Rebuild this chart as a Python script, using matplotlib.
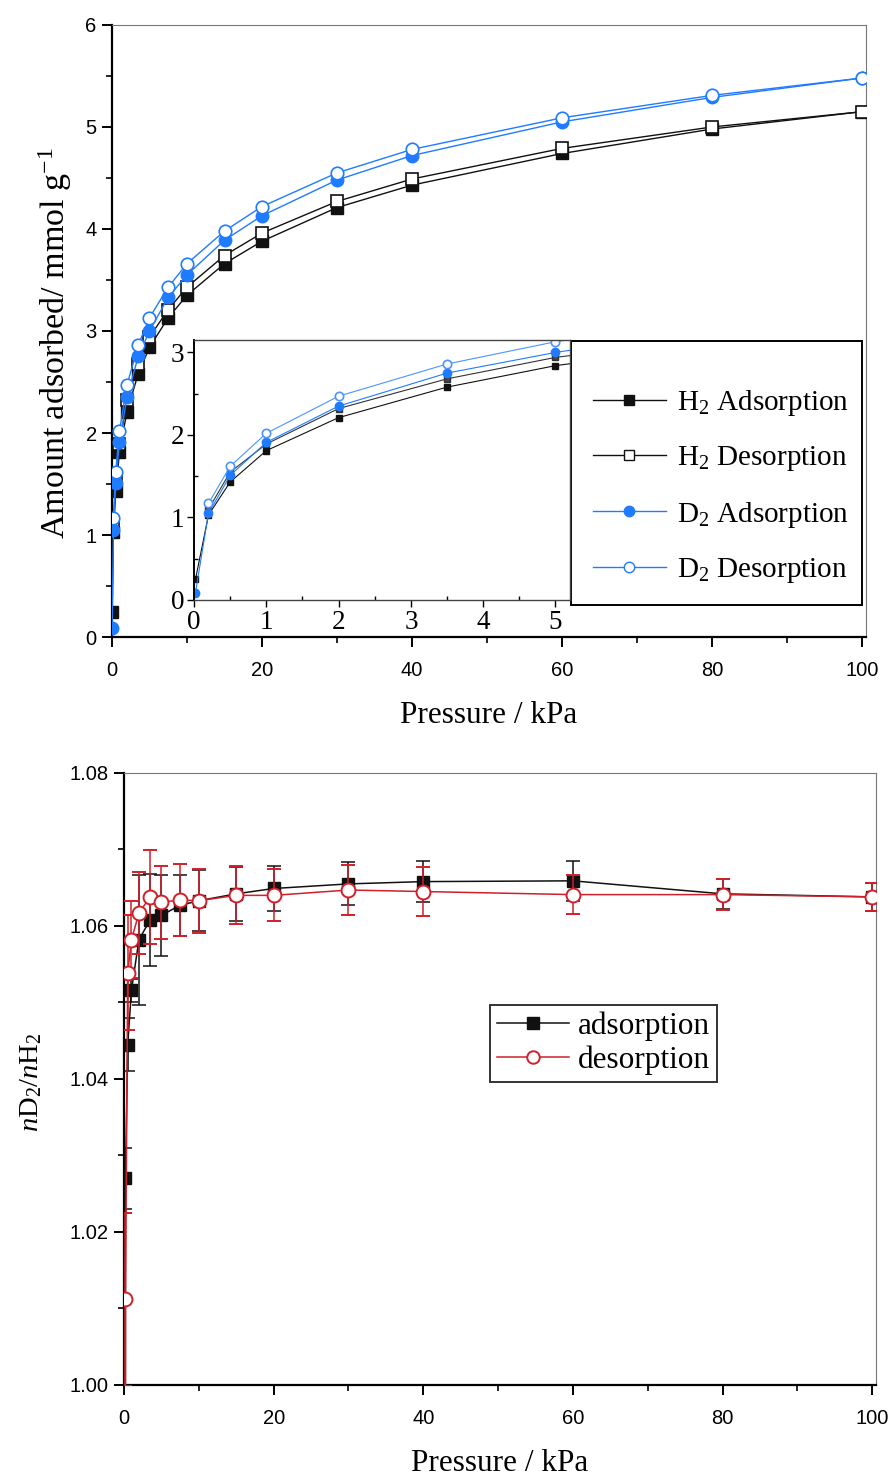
import matplotlib
matplotlib.use("Agg")
import matplotlib.pyplot as plt
from matplotlib.lines import Line2D
from matplotlib.patches import Rectangle
from matplotlib.ticker import MultipleLocator, FormatStrFormatter

plt.rcParams['font.family'] = ['Liberation Serif', 'DejaVu Serif']
plt.rcParams['mathtext.fontset'] = 'custom'
plt.rcParams['mathtext.rm'] = 'Liberation Serif'
plt.rcParams['mathtext.it'] = 'Liberation Serif:italic'

# ---- isotherm data (pressure in kPa, uptake in mmol/g) ----
p_ads = [0.02, 0.2, 0.5, 1, 2, 3.5, 5, 7.5, 10, 15, 20, 30, 40, 60, 80, 100]
p_des = [0.2, 0.5, 1, 2, 3.5, 5, 7.5, 10, 15, 20, 30, 40, 60, 80, 100]
h2_ads = [0.25, 1.03, 1.43, 1.81, 2.21, 2.58, 2.84, 3.13, 3.35, 3.66, 3.88, 4.21, 4.43, 4.74, 4.98, 5.15]
h2_des = [1.10, 1.55, 1.89, 2.32, 2.68, 2.94, 3.21, 3.43, 3.74, 3.96, 4.27, 4.49, 4.79, 5.00, 5.15]
d2_ads = [0.09, 1.05, 1.51, 1.91, 2.35, 2.75, 3.00, 3.33, 3.55, 3.89, 4.13, 4.48, 4.72, 5.05, 5.29, 5.48]
d2_des = [1.17, 1.62, 2.02, 2.47, 2.86, 3.13, 3.43, 3.66, 3.98, 4.22, 4.55, 4.78, 5.09, 5.31, 5.48]

# ---- D2/H2 uptake ratio with uncertainties ----
p_ratio = [0.02, 0.2, 0.5, 1, 2, 3.5, 5, 7.5, 10, 15, 20, 30, 40, 60, 80, 100]
ratio_ads = [0.40, 1.0270, 1.0445, 1.0516, 1.0582, 1.0608, 1.0614, 1.0627, 1.0633,
             1.0642, 1.0649, 1.0655, 1.0658, 1.0659, 1.0642, 1.0638]
err_ads = [0, 0.0040, 0.0035, 0.0015, 0.0085, 0.0060, 0.0053, 0.0040, 0.0040,
           0.0035, 0.0030, 0.0028, 0.0027, 0.0026, 0.0020, 0.0018]
ratio_des = [0.40, 1.0112, 1.0539, 1.0582, 1.0617, 1.0638, 1.0631, 1.0634, 1.0633,
             1.0640, 1.0640, 1.0647, 1.0645, 1.0641, 1.0641, 1.0638]
err_des = [0, 0.0113, 0.0075, 0.0050, 0.0053, 0.0061, 0.0048, 0.0047, 0.0042,
           0.0038, 0.0034, 0.0033, 0.0032, 0.0025, 0.0020, 0.0018]

BLACK = '#111111'
BLUE = '#1f7bff'
LBLUE = '#4d94ff'
RED = '#d0202a'
SANS = 'Liberation Sans'

fig = plt.figure(figsize=(8.9, 14.76), dpi=100)


def style_axes(ax):
    for side in ('left', 'bottom'):
        ax.spines[side].set_linewidth(1.6)
        ax.spines[side].set_color('black')
    for side in ('top', 'right'):
        ax.spines[side].set_linewidth(0.8)
        ax.spines[side].set_color('#777777')
    ax.tick_params(which='major', direction='out', length=7, width=1.4,
                   top=False, right=False, labelsize=14.5,
                   labelfontfamily=SANS)
    ax.tick_params(axis='x', which='major', pad=10)
    ax.tick_params(axis='y', which='major', pad=4)
    ax.tick_params(which='minor', direction='out', length=4, width=1.2,
                   top=False, right=False)


# ================= top panel: isotherms =================
ax1 = fig.add_axes([0.1258, 0.5684, 0.8472, 0.4147])
ms = 8
ax1.plot(p_ads, h2_ads, '-s', color=BLACK, lw=1.0, ms=ms, mfc=BLACK, mec=BLACK, zorder=3)
ax1.plot(p_des, h2_des, '-s', color=BLACK, lw=1.0, ms=ms, mfc='white', mec=BLACK,
         mew=1.2, zorder=3)
ax1.plot(p_ads, d2_ads, '-o', color=BLUE, lw=1.0, ms=ms + 1, mfc=BLUE, mec=BLUE, zorder=4)
ax1.plot(p_des, d2_des, '-o', color=BLUE, lw=1.0, ms=ms + 1, mfc='white', mec=BLUE,
         mew=1.2, zorder=4)
ax1.set_xlim(0, 100.5)
ax1.set_ylim(0, 6)
ax1.xaxis.set_major_locator(MultipleLocator(20))
ax1.xaxis.set_minor_locator(MultipleLocator(10))
ax1.yaxis.set_major_locator(MultipleLocator(1))
ax1.yaxis.set_minor_locator(MultipleLocator(0.5))
style_axes(ax1)
ax1.set_xlabel('Pressure / kPa', fontsize=22.5)
ax1.set_ylabel('Amount adsorbed/ mmol g$^{-1}$', fontsize=24.5)
ax1.xaxis.set_label_coords(0.5, -0.105)
ax1.yaxis.set_label_coords(-0.05, 0.48)

# legend box beside the inset
box = (0.6088, 0.0523, 0.3859, 0.4314)
ax1.add_patch(Rectangle(box[:2], box[2], box[3], transform=ax1.transAxes,
                        facecolor='white', edgecolor='black', lw=1.4, zorder=6))
handles1 = [
    Line2D([], [], color=BLACK, lw=1.0, marker='s', ms=6.5, mfc=BLACK, mec=BLACK),
    Line2D([], [], color=BLACK, lw=1.0, marker='s', ms=6.5, mfc='white', mec=BLACK),
    Line2D([], [], color=BLUE, lw=1.0, marker='o', ms=7.5, mfc=BLUE, mec=BLUE),
    Line2D([], [], color=BLUE, lw=1.0, marker='o', ms=7.5, mfc='white', mec=BLUE),
]
labels1 = ['H$_2$ Adsorption', 'H$_2$ Desorption', 'D$_2$ Adsorption', 'D$_2$ Desorption']
leg1 = ax1.legend(handles1, labels1, loc='center left',
                  bbox_to_anchor=(box[0], box[1] - 0.022, box[2], box[3]),
                  fontsize=21, frameon=False, handlelength=2.5,
                  handletextpad=0.4, labelspacing=0.9, borderpad=0.0,
                  borderaxespad=0.75)
leg1.set_zorder(7)

# inset: low-pressure region
ax_in = fig.add_axes([0.218, 0.5935, 0.4224, 0.1761])
ms_i = 5
ax_in.plot(p_ads, h2_ads, '-s', color=BLACK, lw=0.8, ms=ms_i, mfc=BLACK, mec=BLACK)
ax_in.plot(p_des, h2_des, '-s', color='#333333', lw=0.8, ms=ms_i, mfc='#444444', mec='#333333')
ax_in.plot(p_ads, d2_ads, '-o', color=BLUE, lw=0.8, ms=ms_i + 1, mfc=BLUE, mec=BLUE)
ax_in.plot(p_des, d2_des, '-o', color=LBLUE, lw=0.8, ms=ms_i + 1, mfc='white', mec=LBLUE, mew=1.2)
ax_in.set_xlim(0, 5.2)
ax_in.set_ylim(0, 3.15)
ax_in.xaxis.set_major_locator(MultipleLocator(1))
ax_in.xaxis.set_minor_locator(MultipleLocator(0.5))
ax_in.yaxis.set_major_locator(MultipleLocator(1))
ax_in.yaxis.set_minor_locator(MultipleLocator(0.5))
for s in ax_in.spines.values():
    s.set_linewidth(1.0)
    s.set_color('#444444')
ax_in.spines['left'].set_linewidth(1.4)
ax_in.spines['left'].set_color('black')
ax_in.tick_params(which='major', direction='out', length=5, width=1.0,
                  labelsize=19.5, pad=2)
ax_in.tick_params(which='minor', direction='in', length=3, width=1.0)

# ================= bottom panel: D2/H2 ratio =================
ax2 = fig.add_axes([0.1393, 0.0617, 0.845, 0.4146])
ax2.errorbar(p_ratio, ratio_ads, yerr=err_ads, fmt='-s', color=BLACK, lw=1.1,
             ms=8, mfc=BLACK, mec=BLACK, ecolor=BLACK, elinewidth=1.1,
             capsize=5, capthick=1.1, zorder=3)
ax2.errorbar(p_ratio, ratio_des, yerr=err_des, fmt='-o', color=RED, lw=1.1,
             ms=10, mfc='white', mec=RED, mew=1.4, ecolor=RED, elinewidth=1.1,
             capsize=5, capthick=1.1, zorder=4)
ax2.set_xlim(0, 100.5)
ax2.set_ylim(1.00, 1.08)
ax2.xaxis.set_major_locator(MultipleLocator(20))
ax2.xaxis.set_minor_locator(MultipleLocator(10))
ax2.yaxis.set_major_locator(MultipleLocator(0.02))
ax2.yaxis.set_minor_locator(MultipleLocator(0.01))
ax2.yaxis.set_major_formatter(FormatStrFormatter('%.2f'))
style_axes(ax2)
ax2.set_xlabel('Pressure / kPa', fontsize=22.5)
ax2.set_ylabel('$n$D$_2$/$n$H$_2$', fontsize=20.5)
ax2.xaxis.set_label_coords(0.5, -0.105)
ax2.yaxis.set_label_coords(-0.106, 0.495)

handles2 = [
    Line2D([], [], color=BLACK, lw=1.1, marker='s', ms=8, mfc=BLACK, mec=BLACK),
    Line2D([], [], color=RED, lw=1.1, marker='o', ms=9, mfc='white', mec=RED, mew=1.4),
]
leg2 = ax2.legend(handles2, ['adsorption', 'desorption'], loc='upper left',
                  bbox_to_anchor=(0.487, 0.621), fontsize=22.5,
                  frameon=True, fancybox=False, edgecolor='black',
                  handlelength=2.3, handletextpad=0.3, labelspacing=0.14,
                  borderpad=0.22, borderaxespad=0)
leg2.get_frame().set_linewidth(1.4)

fig.savefig('out.png', dpi=100)
